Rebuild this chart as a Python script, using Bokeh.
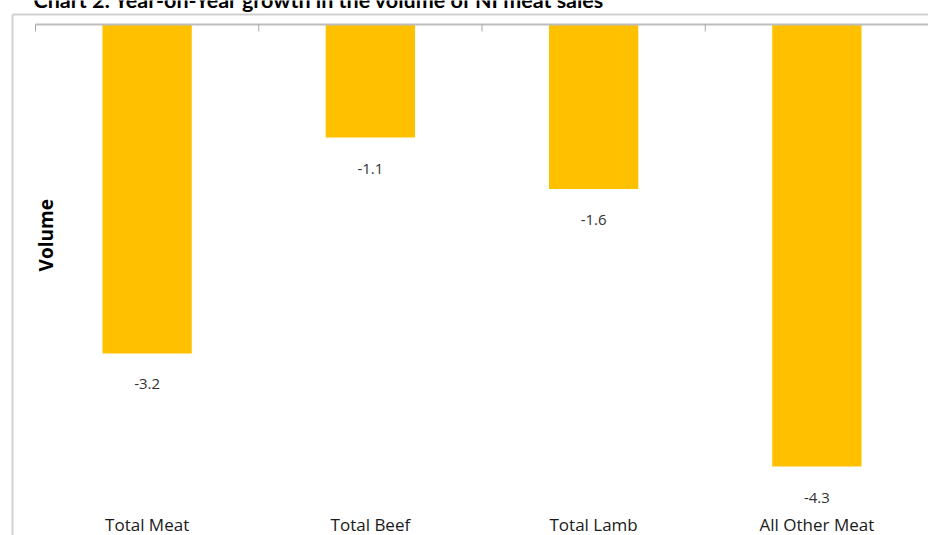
from math import pi
from bokeh.plotting import figure
from bokeh.models import Range1d, FixedTicker, Label, ColumnDataSource, Span
from bokeh.core.properties import value
from bokeh.embed import file_html
from bokeh.resources import INLINE

# ---- data ----
title_text = "Chart 2: Year-on-Year growth in the volume of NI meat sales"
categories = ["Total Meat", "Total Beef", "Total Lamb", "All Other Meat"]
growth = [-3.2, -1.1, -1.6, -4.3]
value_labels = ["-3.2", "-1.1", "-1.6", "-4.3"]
y_label = "Volume"

n = len(categories)
xs = [i + 1 for i in range(n)]
boundaries = [i + 0.5 for i in range(n)]

# layout constants (data units; 1 unit x = 223.25 px, 1 unit y = 102.8 px)
X0, X1 = 0.397, n + 0.5
Y1 = 0.2335
Y0 = Y1 - 535 / 102.8
BORDER_Y = 0.0973
TICK = 7 / 102.8
CAT_Y = -4.864
TITLE_Y = 0.234

src = ColumnDataSource(dict(x=xs, top=growth, lab=value_labels))
cat_src = ColumnDataSource(dict(x=xs, y=[CAT_Y] * n, cat=categories))
tick_src = ColumnDataSource(dict(x=boundaries, y0=[0] * n, y1=[-TICK] * n))

p = figure(width=928, height=535, output_backend="svg", toolbar_location=None,
           x_range=Range1d(X0, X1), y_range=Range1d(Y0, Y1),
           x_axis_location=None, y_axis_location="left",
           min_border_left=12, min_border_right=0,
           min_border_top=0, min_border_bottom=0)
p.outline_line_color = None
p.xgrid.visible = False
p.ygrid.visible = False
p.background_fill_color = "white"
p.border_fill_color = "white"

# left border of the chart box
ya = p.yaxis[0]
ya.ticker = FixedTicker(ticks=[])
ya.bounds = (Y0, BORDER_Y)
ya.axis_line_color = "#d0d0d0"
ya.axis_line_width = 2
ya.major_tick_line_color = None
ya.minor_tick_line_color = None
ya.major_tick_out = 0
ya.major_tick_in = 0
ya.major_label_standoff = 0
ya.major_label_text_font_size = "1px"
ya.major_label_text_color = None

# top border of the chart box
p.add_layout(Span(location=BORDER_Y, dimension="width",
                  line_color="#d0d0d0", line_width=2))

p.vbar(x="x", top="top", bottom=0, width=0.40, source=src,
       fill_color="#FFC000", line_color=None)

# zero line with category-boundary ticks
p.segment(x0=boundaries[0], x1=X1, y0=0, y1=0, line_color="#bdbdbd", line_width=2)
p.segment(x0="x", x1="x", y0="y0", y1="y1", source=tick_src,
          line_color="#a6a6a6", line_width=1)

p.text(x="x", y="top", text="lab", source=src, y_offset=31,
       text_align="center", text_baseline="middle",
       text_font=value("Open Sans"), text_font_size="15px", text_color="#333333")

p.text(x="x", y="y", text="cat", source=cat_src,
       text_align="center", text_baseline="middle",
       text_font=value("Open Sans"), text_font_size="17px", text_color="#1a1a1a")

p.add_layout(Label(x=0.545, y=-2.05, text=y_label, angle=pi / 2,
                   text_align="center", text_baseline="middle",
                   text_font="Open Sans", text_font_style="bold",
                   text_font_size="19px", text_color="#000000"))

p.add_layout(Label(x=0.491, y=TITLE_Y, text=title_text,
                   text_align="left", text_baseline="alphabetic",
                   text_font="Lato", text_font_style="bold",
                   text_font_size="21.5px", text_color="#000000"))

open("out.html", "w").write(file_html(p, INLINE))
